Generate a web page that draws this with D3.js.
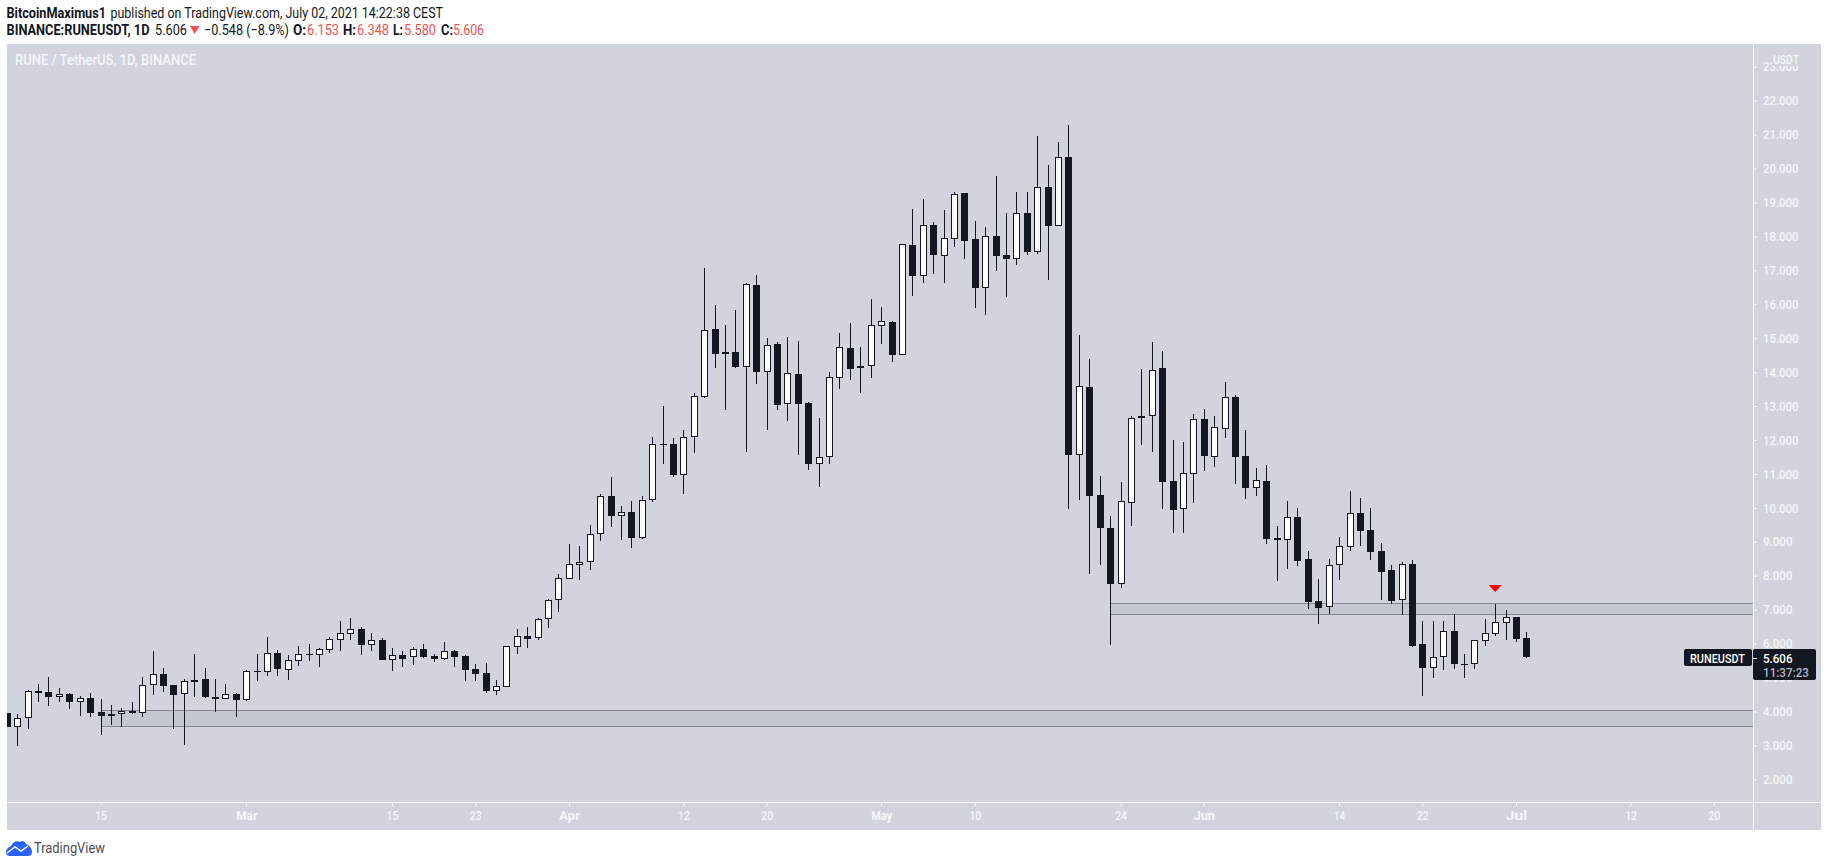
<!DOCTYPE html>
<html>
<head>
<meta charset="utf-8">
<script src="https://cdn.jsdelivr.net/npm/d3@7"></script>
<style>
  html, body { margin: 0; background: #fff; overflow: hidden; }
  text { font-family: Roboto, sans-serif; }
</style>
</head>
<body>
<svg id="chart" width="1828" height="867"></svg>
<script>
// daily candles, Feb 6 2021 -> Jul 2 2021
const firstDay = new Date(Date.UTC(2021, 1, 6));
const lastDay = new Date(Date.UTC(2021, 6, 3));
const days = d3.utcDay.range(firstDay, lastDay);

const opens = [
  3.95,3.55,3.80,4.60,4.56,4.44,4.52,4.29,4.39,3.98,3.92,3.91,4.01,3.96,4.77,5.09,4.77,4.50,4.93,4.95,4.43,4.38,4.51,
  4.35,5.18,5.17,5.71,5.23,5.50,5.68,5.67,5.82,6.12,6.29,6.43,5.97,6.11,5.53,5.66,5.59,5.84,5.64,5.56,5.78,5.64,5.25,5.13,4.61,4.73,5.91,6.22,6.15,6.73,7.27,
  7.91,8.33,8.39,9.22,10.34,9.77,9.87,9.12,10.22,11.87,11.87,10.98,12.08,13.28,15.27,14.59,14.59,14.16,16.57,14.01,14.83,13.07,13.95,13.09,11.30,11.51,13.84,14.71,14.18,14.19,
  15.37,15.48,14.51,17.75,16.84,18.33,17.43,17.93,19.27,17.92,16.49,18.00,17.45,17.32,18.69,17.55,19.46,18.32,20.34,11.57,13.56,10.37,9.40,7.77,10.15,12.64,12.72,14.11,10.78,9.98,11.01,
  12.61,11.51,12.33,13.26,11.53,10.60,10.78,9.11,9.06,9.72,8.49,7.26,7.07,8.33,8.86,9.85,9.35,8.73,8.17,7.27,8.35,5.99,5.29,5.59,6.37,5.39,5.41,6.09,6.29,6.62,
  6.78,6.153
];
const highs = [
  3.95,3.92,4.63,4.81,5.01,4.69,4.53,4.46,4.54,4.37,4.18,4.09,4.28,5.01,5.78,5.27,4.78,4.95,5.69,5.27,4.95,4.81,4.53,
  5.22,5.69,6.20,5.81,5.66,5.93,5.99,5.86,6.20,6.67,6.76,6.49,6.31,6.17,5.87,5.78,5.90,5.99,5.69,6.05,5.81,5.66,5.40,5.43,4.93,5.93,6.43,6.49,6.75,7.31,8.05,
  8.94,8.88,9.50,10.41,10.91,10.06,10.20,10.35,12.09,13.00,12.06,12.30,13.38,17.07,15.98,15.39,15.83,16.63,16.86,15.01,14.89,15.04,14.92,13.12,12.65,14.00,15.15,15.45,14.74,16.16,
  15.92,15.51,17.78,18.81,19.10,18.43,18.78,19.31,19.27,18.46,18.28,19.78,18.69,19.31,19.31,20.96,20.11,20.78,21.28,15.09,14.39,10.94,9.76,10.76,12.71,14.09,14.89,14.62,12.00,11.94,12.77,
  12.91,12.71,13.71,13.33,12.30,11.18,11.26,9.47,10.20,10.00,8.73,7.90,8.49,9.14,10.50,10.29,10.00,8.96,8.32,8.40,8.46,6.67,6.67,6.67,6.87,5.69,6.11,6.73,7.17,6.99,
  6.78,6.348
];
const lows = [
  3.55,2.99,3.49,4.29,4.16,4.29,4.08,3.88,3.85,3.32,3.61,3.55,3.93,3.85,4.49,4.58,3.49,3.02,4.44,4.41,3.99,4.37,3.85,
  4.32,4.91,5.05,5.05,4.93,5.34,5.49,5.31,5.72,5.78,6.11,5.66,5.78,5.51,5.19,5.31,5.37,5.58,5.46,5.52,5.31,4.90,4.90,4.54,4.49,4.72,5.69,5.87,6.12,6.46,6.93,
  7.91,7.87,8.17,9.02,9.44,9.05,8.82,9.08,10.17,11.29,10.91,10.41,11.62,13.24,14.12,12.88,14.12,11.65,13.65,12.30,12.88,12.56,11.56,11.12,10.62,11.29,13.50,13.77,13.39,13.83,
  14.83,14.30,14.50,16.24,16.63,16.89,16.63,17.69,17.34,15.89,15.68,16.98,16.22,17.16,17.45,17.48,16.72,18.31,9.97,10.23,8.05,8.32,5.96,7.64,9.47,11.85,11.65,9.97,9.26,9.26,10.14,
  11.09,11.20,12.06,10.70,10.26,10.35,8.94,7.84,8.20,8.29,7.02,6.58,6.87,7.87,8.73,8.88,8.46,7.28,7.17,6.84,5.90,4.46,4.99,5.22,5.25,4.99,5.25,5.93,6.22,6.11,
  6.05,5.58
];
const closes = [
  3.55,3.80,4.59,4.54,4.43,4.51,4.29,4.39,3.94,3.87,3.88,4.00,3.96,4.77,5.09,4.76,4.49,4.89,4.88,4.43,4.38,4.51,4.35,
  5.18,5.17,5.71,5.26,5.51,5.68,5.69,5.83,6.13,6.30,6.42,5.96,6.10,5.52,5.65,5.55,5.83,5.61,5.55,5.77,5.61,5.22,5.11,4.60,4.74,5.92,6.21,6.14,6.72,7.28,7.92,
  8.34,8.40,9.22,10.34,9.77,9.87,9.12,10.22,11.87,11.88,10.98,12.08,13.29,15.23,14.54,14.53,14.15,16.59,14.00,14.79,13.03,13.97,13.06,11.29,11.49,13.85,14.73,14.09,14.12,15.38,
  15.50,14.51,17.77,16.83,18.33,17.45,17.94,19.24,17.87,16.48,18.00,17.42,17.34,18.68,17.54,19.45,18.31,20.33,11.56,13.58,10.36,9.41,7.76,10.19,12.64,12.72,14.05,10.76,9.94,11.02,12.61,
  11.53,12.37,13.26,11.50,10.59,10.81,9.08,9.05,9.72,8.43,7.23,7.05,8.31,8.87,9.84,9.32,8.70,8.11,7.26,8.34,5.93,5.28,5.60,6.36,5.40,5.39,6.10,6.30,6.63,6.77,
  6.14,5.606
];

// drawn horizontal zones: [start day, top price, bottom price]
const zones = [
  [new Date(Date.UTC(2021, 1, 15)), 4.03, 3.56],
  [new Date(Date.UTC(2021, 4, 23)), 7.19, 6.86]
];
const arrowDay = new Date(Date.UTC(2021, 5, 29));
const arrowPrice = 7.73;

const priceTicks = d3.range(2, 24);
const timeTicks = [
  [2021, 1, 15, "15"], [2021, 2, 1, "Mar"], [2021, 2, 15, "15"], [2021, 2, 23, "23"],
  [2021, 3, 1, "Apr"], [2021, 3, 12, "12"], [2021, 3, 20, "20"], [2021, 4, 1, "May"],
  [2021, 4, 10, "10"], [2021, 4, 24, "24"], [2021, 5, 1, "Jun"], [2021, 5, 14, "14"],
  [2021, 5, 22, "22"], [2021, 6, 1, "Jul"], [2021, 6, 12, "12"], [2021, 6, 20, "20"]
];
const monthNames = ["Mar", "Apr", "May", "Jun", "Jul"];

const dark = "#131722", panel = "#d1d4dc", axisText = "#f5f6fa", red = "#ef5350";
const plotLeft = 7, plotRight = 1753, plotTop = 44, plotBottom = 802, panelRight = 1821, panelBottom = 830;

const svg = d3.select("#chart");

const x = d3.scaleUtc()
  .domain([new Date(Date.UTC(2021, 1, 15)), new Date(Date.UTC(2021, 6, 20))])
  .range([100.5, 1713.8]);
const y = d3.scaleLinear().domain([2, 22]).range([779.3, 100.7]);

// text with a fixed width so it lands where the reference has it
function label(parent, px, py, width, str, size, weight, fill) {
  return parent.append("text").attr("x", px).attr("y", py)
    .attr("textLength", width).attr("lengthAdjust", "spacingAndGlyphs")
    .attr("font-size", size).attr("font-weight", weight).attr("fill", fill).text(str);
}

svg.append("rect").attr("x", plotLeft).attr("y", plotTop)
  .attr("width", panelRight - plotLeft).attr("height", panelBottom - plotTop).attr("fill", panel);

svg.append("defs").append("clipPath").attr("id", "plot")
  .append("rect").attr("x", plotLeft).attr("y", plotTop)
  .attr("width", plotRight - plotLeft).attr("height", plotBottom - plotTop);

const plot = svg.append("g").attr("clip-path", "url(#plot)").attr("shape-rendering", "crispEdges");

// zones sit under the candles
zones.forEach(function (z) {
  const x0 = Math.round(x(z[0])), yt = Math.round(y(z[1])), yb = Math.round(y(z[2]));
  plot.append("rect").attr("x", x0).attr("y", yt).attr("width", plotRight - x0).attr("height", yb - yt)
    .attr("fill", "#131722").attr("fill-opacity", 0.07);
  [yt, yb].forEach(function (v) {
    plot.append("line").attr("x1", x0).attr("x2", plotRight).attr("y1", v + 0.5).attr("y2", v + 0.5)
      .attr("stroke", "#868993").attr("stroke-width", 1);
  });
});

const candles = plot.selectAll("g.candle").data(days).enter().append("g").attr("class", "candle");

candles.each(function (d, i) {
  const g = d3.select(this);
  const cx = Math.round(x(d));
  const yTop = Math.round(y(Math.max(opens[i], closes[i])));
  const yBot = Math.max(yTop + 1, Math.round(y(Math.min(opens[i], closes[i]))));
  g.append("rect").attr("x", cx).attr("width", 1)
    .attr("y", Math.round(y(highs[i]))).attr("height", Math.max(1, Math.round(y(lows[i])) - Math.round(y(highs[i]))))
    .attr("fill", dark);
  g.append("rect").attr("x", cx - 3).attr("width", 7).attr("y", yTop).attr("height", yBot - yTop).attr("fill", dark);
  if (closes[i] >= opens[i] && yBot - yTop > 2) {
    g.append("rect").attr("x", cx - 2).attr("width", 5).attr("y", yTop + 1).attr("height", yBot - yTop - 2).attr("fill", "#fff");
  }
});

// red arrow above the zone
svg.append("path")
  .attr("transform", "translate(" + x(arrowDay) + "," + y(arrowPrice) + ")")
  .attr("d", "M-6.5,0L6.5,0L0,7Z")
  .attr("fill", "#ff0000");

// axes
const yAxis = d3.axisRight(y).tickValues(priceTicks).tickSize(4).tickPadding(6).tickFormat(d3.format(".3f"));
const yG = svg.append("g").attr("transform", "translate(" + plotRight + ",0)").call(yAxis);
yG.select(".domain").remove();
yG.selectAll("line").attr("stroke", "#fff");
yG.selectAll("text").attr("fill", axisText).attr("font-size", 13).attr("font-weight", 500)
  .attr("font-family", "Roboto, sans-serif")
  .attr("textLength", d => d >= 10 ? 35.5 : 29.5).attr("lengthAdjust", "spacingAndGlyphs");

const xAxis = d3.axisBottom(x)
  .tickValues(timeTicks.map(t => new Date(Date.UTC(t[0], t[1], t[2]))))
  .tickSize(4).tickPadding(5)
  .tickFormat((d, i) => timeTicks[i][3]);
const xG = svg.append("g").attr("transform", "translate(0," + plotBottom + ")").call(xAxis);
xG.select(".domain").remove();
xG.selectAll("line").attr("stroke", "#fff");
xG.selectAll("text").attr("fill", axisText).attr("font-size", 13).attr("font-family", "Roboto, sans-serif")
  .attr("font-weight", (d, i) => monthNames.includes(timeTicks[i][3]) ? 700 : 500)
  .attr("textLength", (d, i) => monthNames.includes(timeTicks[i][3]) ? 21 : 11.7)
  .attr("lengthAdjust", "spacingAndGlyphs");

svg.append("rect").attr("x", plotLeft).attr("y", plotBottom).attr("width", panelRight - plotLeft).attr("height", 1).attr("fill", "#fff");
svg.append("rect").attr("x", plotRight).attr("y", plotTop).attr("width", 1).attr("height", panelBottom - plotTop).attr("fill", "#fff");

// USDT label covers the top of the 23.000 tick
svg.append("rect").attr("x", 1772).attr("y", 50).attr("width", 30).attr("height", 16).attr("fill", panel);
label(svg, 1773, 64, 26, "USDT", 13, 500, axisText);

// last price tags
svg.append("rect").attr("x", 1684).attr("y", 649).attr("width", 68).attr("height", 17).attr("rx", 2).attr("fill", dark);
svg.append("rect").attr("x", 1753).attr("y", 649).attr("width", 63).attr("height", 31).attr("rx", 2).attr("fill", dark);
svg.append("line").attr("x1", 1753).attr("x2", 1757).attr("y1", 658.5).attr("y2", 658.5).attr("stroke", "#fff");
label(svg, 1690, 662.5, 55, "RUNEUSDT", 13, 500, "#fff");
label(svg, 1763, 662.5, 29.5, "5.606", 13, 500, "#fff");
label(svg, 1763, 676.5, 46, "11:37:23", 13, 500, "#b2b5be");

label(svg, 15, 65, 181, "RUNE / TetherUS, 1D, BINANCE", 14, 500, axisText);

// header
label(svg, 6.5, 18, 99.5, "BitcoinMaximus1", 14.5, 700, dark);
label(svg, 110.5, 18, 332.5, "published on TradingView.com, July 02, 2021 14:22:38 CEST", 14.5, 400, dark);

const headItems = [
  [6.5, 143, "BINANCE:RUNEUSDT, 1D", 700, dark], [155, 32, "5.606", 400, dark], [204, 85, "\u22120.548 (\u22128.9%)", 400, dark],
  [293, 13, "O:", 700, dark], [307, 32, "6.153", 400, red], [343, 13, "H:", 700, dark], [357, 32, "6.348", 400, red],
  [393, 10, "L:", 700, dark], [404, 32, "5.580", 400, red], [441, 12, "C:", 700, dark], [453, 31, "5.606", 400, red]
];
headItems.forEach(function (t) {
  label(svg, t[0], 34.5, t[1], t[2], 14.5, t[3], t[4]);
});
svg.append("path").attr("d", "M190,26L199.5,26L194.7,34Z").attr("fill", red);

// TradingView logo
const logo = svg.append("g");
logo.append("path")
  .attr("d", "M6,852C6,849 9,847 11,846C13,842 17,840 20,842C22,840 25,841 26,844C29,845 32,848 32,852C32,855 30,856 28,856L10,856C8,856 6,855 6,852Z")
  .attr("fill", "#2962ff");
logo.append("path").attr("d", "M7,853L15,847L21,851L28,846").attr("fill", "none").attr("stroke", "#fff").attr("stroke-width", 1.5);
label(svg, 34, 853, 71, "TradingView", 14.5, 400, "#4a4e58");
</script>
</body>
</html>
